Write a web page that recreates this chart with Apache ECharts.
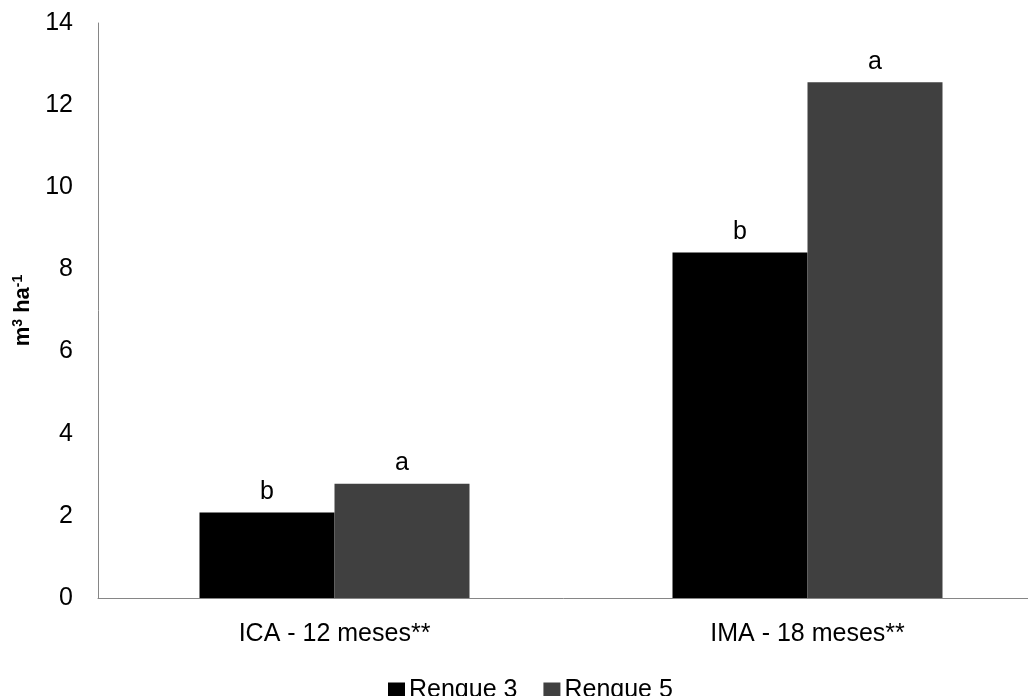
<!DOCTYPE html>
<html><head><meta charset="utf-8">
<script src="https://cdn.jsdelivr.net/npm/echarts@6/dist/echarts.min.js"></script>
<style>html,body{margin:0;padding:0;background:#fff}#c{width:1028px;height:696px}</style>
</head><body><div id="c"></div>
<script>
const categories = ['ICA - 12 meses**', 'IMA - 18 meses**'];
const seriesNames = ['Renque 3', 'Renque 5'];
const renque3 = [2.08, 8.41];
const renque5 = [2.78, 12.56];
const letters3 = ['b', 'b'];
const letters5 = ['a', 'a'];
const yTicks = [0, 2, 4, 6, 8, 10, 12, 14];

const chart = echarts.init(document.getElementById('c'), null, {renderer: 'canvas'});
const font = 'Liberation Sans, Arial, sans-serif';
const mkLabel = (letters) => ({
  show: true, position: 'top', distance: 8,
  formatter: p => letters[p.dataIndex],
  fontFamily: font, fontSize: 25, color: '#000'
});
chart.setOption({
  animation: false,
  textStyle: {fontFamily: font},
  grid: {left: 98, width: 946, top: 23, bottom: 98, containLabel: false, outerBoundsMode: 'none'},
  legend: {
    bottom: -12, left: 383, itemWidth: 17, itemHeight: 16, itemGap: 26,
    icon: 'rect',
    textStyle: {fontFamily: font, fontSize: 25, color: '#000', padding: [0, 0, 0, -1]},
    data: seriesNames
  },
  xAxis: {
    type: 'category', data: categories,
    axisLine: {lineStyle: {color: '#868686', width: 1}},
    axisTick: {show: false},
    axisLabel: {fontFamily: font, fontSize: 25, color: '#000', margin: 24}
  },
  yAxis: {
    type: 'value', min: yTicks[0], max: yTicks[yTicks.length - 1], interval: 2,
    axisLine: {show: true, lineStyle: {color: '#868686', width: 1}},
    axisTick: {show: false},
    splitLine: {show: false},
    axisLabel: {fontFamily: font, fontSize: 25, color: '#000', margin: 25},
    name: '{b|m}{s|3}{b| ha}{s|-1}',
    nameLocation: 'middle', nameGap: 62, nameRotate: 90,
    nameTextStyle: {
      rich: {
        b: {fontFamily: font, fontSize: 22, fontWeight: 'bold', color: '#000'},
        s: {fontFamily: font, fontSize: 14, fontWeight: 'bold', color: '#000', verticalAlign: 'top', padding: [0, 0, 10, 0]}
      }
    }
  },
  series: [
    {name: seriesNames[0], type: 'bar', data: renque3, barWidth: 135, barGap: '0%',
     itemStyle: {color: '#000000'}, label: mkLabel(letters3)},
    {name: seriesNames[1], type: 'bar', data: renque5, barWidth: 135, barGap: '0%',
     itemStyle: {color: '#404040'}, label: mkLabel(letters5)}
  ]
});
</script></body></html>
